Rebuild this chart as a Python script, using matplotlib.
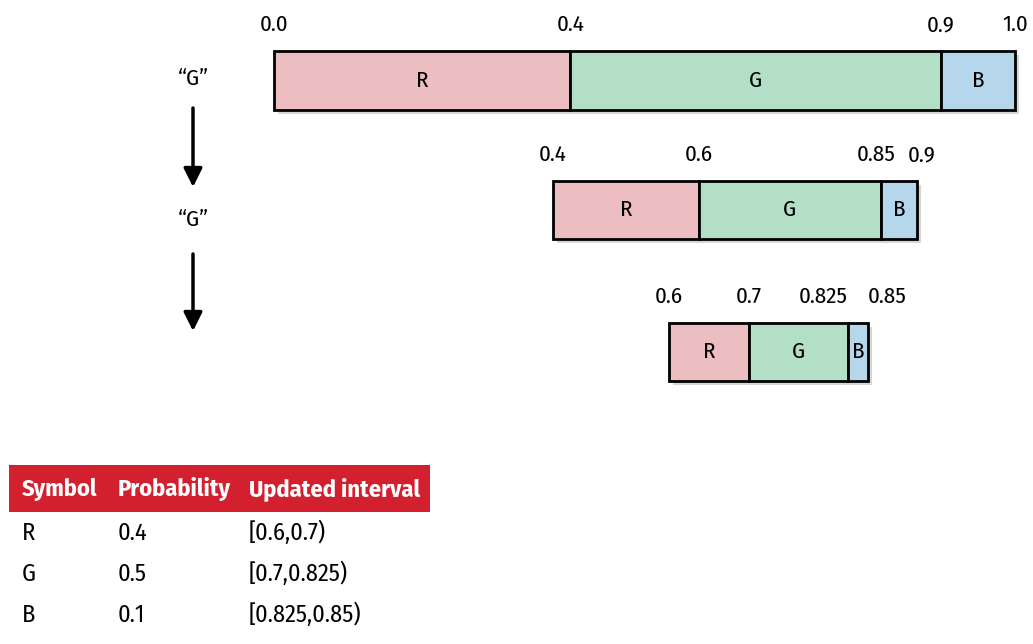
"""Arithmetic coding: interval narrowing for the message "G", "G"."""

import matplotlib.pyplot as plt
import matplotlib.patheffects as pe
from matplotlib.patches import Rectangle

plt.rcParams["font.family"] = ["Fira Sans Condensed", "PT Sans Narrow", "DejaVu Sans"]

# data
symbols = ["R", "G", "B"]
probabilities = [0.4, 0.5, 0.1]
row_bounds = [
    [0.0, 0.4, 0.9, 1.0],
    [0.4, 0.6, 0.85, 0.9],
    [0.6, 0.7, 0.825, 0.85],
]
bound_labels = [
    ["0.0", "0.4", "0.9", "1.0"],
    ["0.4", "0.6", "0.85", "0.9"],
    ["0.6", "0.7", "0.825", "0.85"],
]
encoded = ["\u201cG\u201d", "\u201cG\u201d"]
table_header = ["Symbol", "Probability", "Updated interval"]
table_intervals = ["[0.6,0.7)", "[0.7,0.825)", "[0.825,0.85)"]

# layout (pixels)
W, H = 1033, 644
row_boxes = [(274, 1015, 51, 110), (553, 917, 181, 239), (669, 868, 323, 381)]
seg_colors = ["#ecbdc1", "#b3dfc7", "#b5d6eb"]
header_red = "#d2202f"
fs_chart = 16.5
fs_table = 17.5

fig = plt.figure(figsize=(W / 100, H / 100), dpi=100)
base = fig.add_axes([0, 0, 1, 1])
base.set_xlim(0, W)
base.set_ylim(H, 0)
base.axis("off")

shadow = [pe.SimplePatchShadow(offset=(3, -3), shadow_rgbFace="#999999", alpha=0.4), pe.Normal()]

for bounds, labels, (x0, x1, y0, y1) in zip(row_bounds, bound_labels, row_boxes):
    ax = fig.add_axes([x0 / W, 1 - y1 / H, (x1 - x0) / W, (y1 - y0) / H])
    ax.set_xlim(bounds[0], bounds[-1])
    ax.set_ylim(0, 1)
    ax.axis("off")
    lefts = bounds[:-1]
    widths = [b - a for a, b in zip(bounds[:-1], bounds[1:])]
    bars = ax.barh(0.5, widths, left=lefts, height=1.0, color=seg_colors,
                   edgecolor="black", linewidth=2, clip_on=False)
    for bar in bars:
        bar.set_path_effects(shadow)
    for sym, a, w in zip(symbols, lefts, widths):
        ax.text(a + w / 2, 0.5, sym, ha="center", va="center", fontsize=fs_chart)
    # push the last two labels apart when the last segment is thin in pixels
    n = len(bounds)
    last_px = (bounds[-1] - bounds[-2]) / (bounds[-1] - bounds[0]) * (x1 - x0)
    crowded = last_px < 30
    nudge = max(0.0, 46 - last_px) / 2 * 0.72 if not crowded else 0.0
    for i, (b, lab) in enumerate(zip(bounds, labels)):
        ha, dx = "center", 0.0
        if i == n - 2:
            ha, dx = ("right", 0.0) if crowded else ("center", -nudge)
        if i == n - 1:
            ha, dx = ("left", 0.0) if crowded else ("center", nudge)
        ax.annotate(lab, (b, 1), xytext=(dx, 11), textcoords="offset points",
                    ha=ha, va="bottom", fontsize=fs_chart, annotation_clip=False)

# encoded symbols and arrows
for txt, (ty, a0, a1) in zip(encoded, [(79, 108, 187), (220, 254, 331)]):
    base.text(193, ty, txt, ha="center", va="center", fontsize=fs_chart)
    base.annotate("", xy=(193, a1), xytext=(193, a0),
                  arrowprops=dict(arrowstyle="-|>", lw=2.5, color="black",
                                  mutation_scale=28, shrinkA=0, shrinkB=0))

# table
base.add_patch(Rectangle((9, 465), 421, 47, facecolor=header_red, edgecolor="none"))
col_x = [22, 118, 249]
for x, h in zip(col_x, table_header):
    base.text(x, 489, h, ha="left", va="center", fontsize=fs_table, fontweight="bold", color="white")
for ry, sym, p, iv in zip([533, 574, 615], symbols, probabilities, table_intervals):
    base.text(col_x[0], ry, sym, ha="left", va="center", fontsize=fs_table)
    base.text(col_x[1], ry, f"{p}", ha="left", va="center", fontsize=fs_table)
    base.text(col_x[2], ry, iv, ha="left", va="center", fontsize=fs_table)

fig.savefig("out.png", dpi=100)
